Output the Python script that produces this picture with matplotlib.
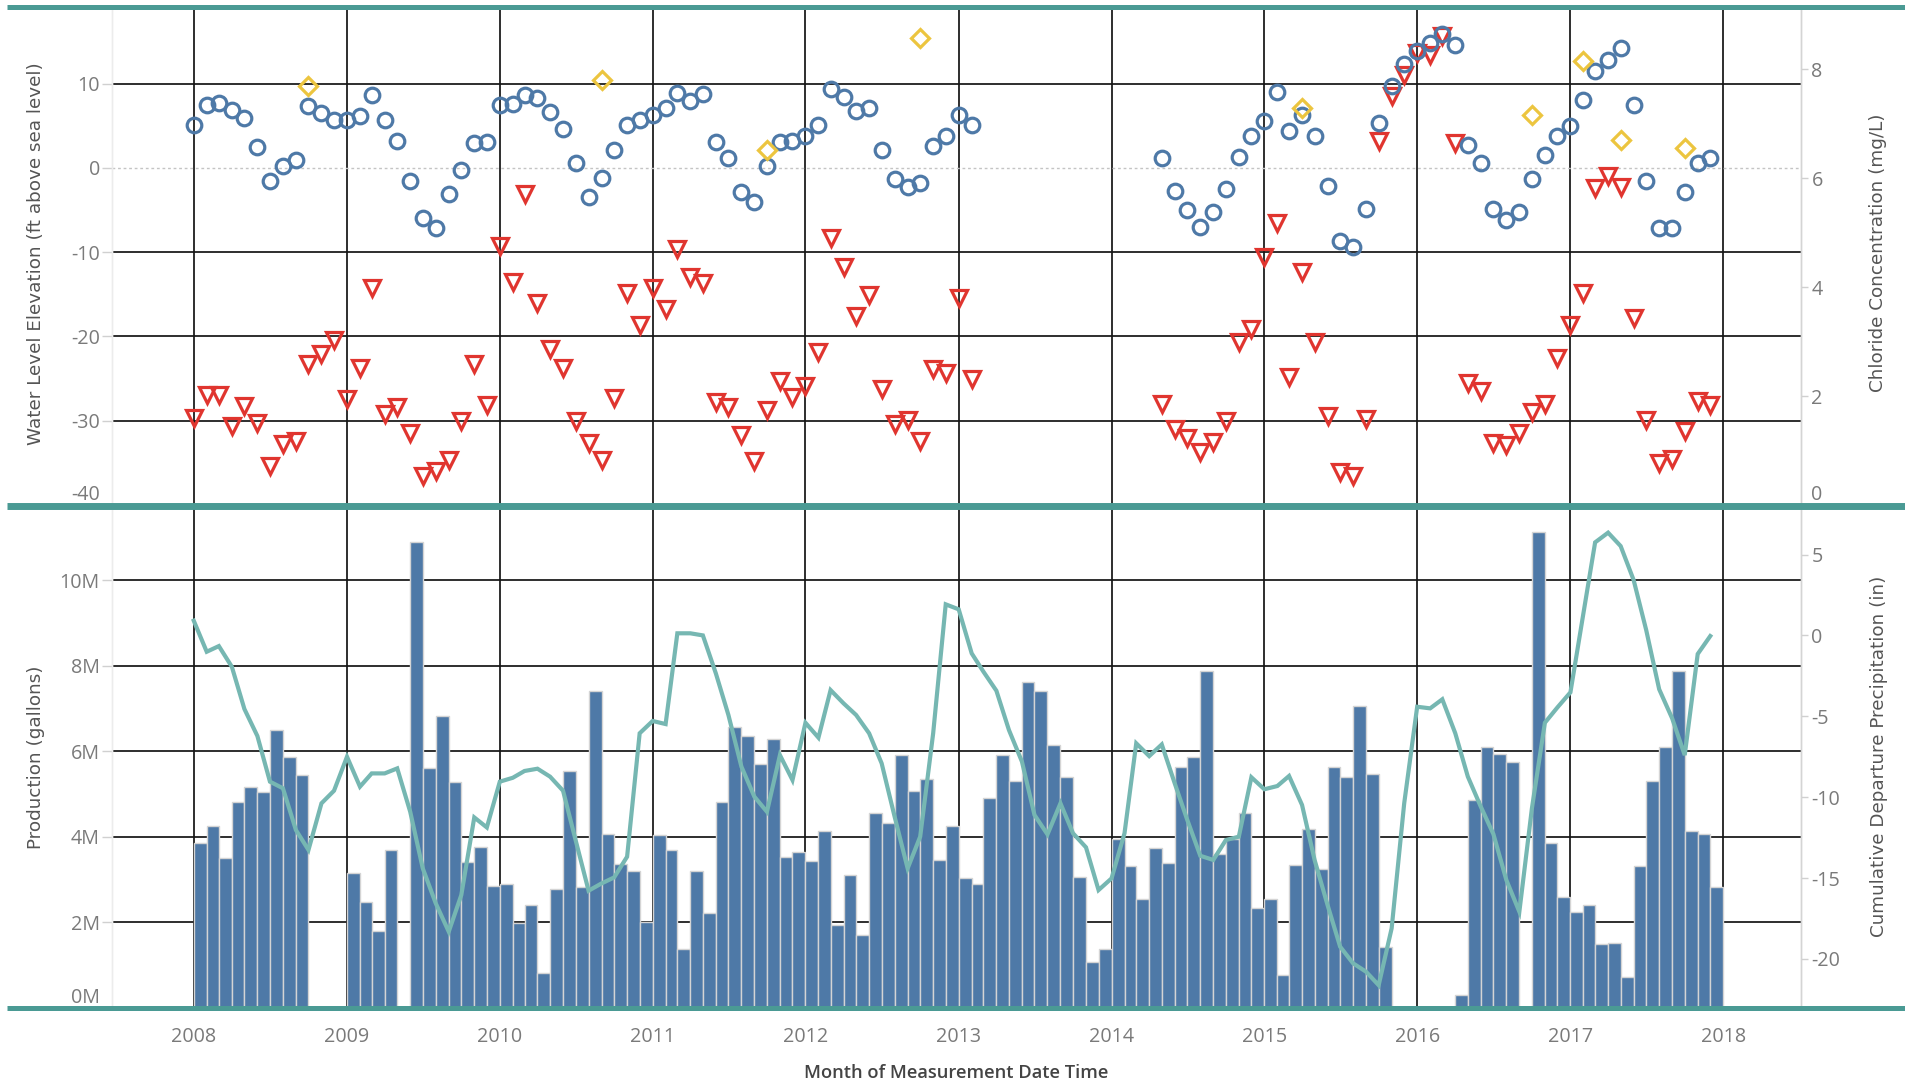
import numpy as np
import pandas as pd
import matplotlib
matplotlib.use("Agg")
import matplotlib.pyplot as plt
import matplotlib.dates as mdates
from matplotlib.lines import Line2D

plt.rcParams["font.family"] = ["Open Sans", "DejaVu Sans"]
plt.rcParams["axes.unicode_minus"] = False

nan = np.nan

# ---- monthly data, Jan 2008 .. Dec 2017 ----
months = pd.date_range("2008-01-01", "2017-12-01", freq="MS")

# water level elevation (ft above sea level), well A (circles)
well_a_ft = [
    5.14, 7.47, 7.67, 6.88, 5.97, 2.49, -1.58, 0.20, 0.91, 7.31, 6.52, 5.73,
    5.73, 6.17, 8.62, 5.73, 3.24, -1.58, -5.97, -7.15, -3.12, -0.24, 2.89, 3.04,
    7.47, 7.63, 8.62, 8.26, 6.68, 4.58, 0.55, -3.48, -1.19, 2.09, 5.14, 5.73,
    6.32, 7.11, 8.85, 7.91, 8.81, 3.04, 1.15, -2.89, -4.03, 0.20, 3.04, 3.24,
    3.83, 5.14, 9.41, 8.42, 6.72, 7.08, 2.09, -1.38, -2.33, -1.78, 2.65, 3.83,
    6.32, 5.10, nan, nan, nan, nan, nan, nan, nan, nan, nan, nan,
    nan, nan, nan, nan, 1.15, -2.73, -5.02, -6.96, -5.22, -2.53, 1.34, 3.83,
    5.57, 9.01, 4.39, 6.32, 3.83, -2.13, -8.66, -9.45, -4.86, 5.34, 9.76, 12.33,
    13.83, 14.82, 15.89, 14.58, 2.69, 0.55, -4.86, -6.21, -5.22, -1.38, 1.54, 3.83,
    4.98, 8.06, 11.50, 12.85, 14.23, 7.47, -1.58, -7.08, -7.15, -2.92, 0.55, 1.15,
]

# water level elevation (ft above sea level), well B (triangles)
well_b_ft = [
    -29.64, -27.00, -27.00, -30.63, -28.26, -30.24, -35.38, -32.73, -32.41, -23.32, -22.13, -20.43,
    -27.39, -23.72, -14.27, -29.25, -28.34, -31.50, -36.56, -35.97, -34.70, -30.04, -23.32, -28.18,
    -9.29, -13.52, -3.16, -16.01, -21.54, -23.72, -30.04, -32.61, -34.66, -27.31, -14.82, -18.70,
    -14.27, -16.80, -9.60, -12.96, -13.72, -27.79, -28.34, -31.74, -34.78, -28.74, -25.30, -27.15,
    -25.89, -21.82, -8.34, -11.74, -17.59, -15.06, -26.21, -30.43, -29.92, -32.41, -23.83, -24.31,
    -15.45, -25.02, nan, nan, nan, nan, nan, nan, nan, nan, nan, nan,
    nan, nan, nan, nan, -27.98, -31.03, -32.02, -33.72, -32.53, -30.04, -20.67, -19.09,
    -10.59, -6.60, -24.78, -12.37, -20.67, -29.45, -36.09, -36.56, -29.84, 3.20, 8.50, 11.07,
    13.64, 13.44, 15.69, 2.96, -25.49, -26.48, -32.61, -32.92, -31.42, -28.97, -27.98, -22.57,
    -18.70, -14.90, -2.37, -0.99, -2.25, -17.79, -29.92, -34.98, -34.51, -31.26, -27.67, -28.18,
]

# chloride samples (mg/L)
chloride_dates = ["2008-10-01", "2010-09-01", "2011-10-01", "2012-10-01", "2015-04-01",
                  "2016-10-01", "2017-02-01", "2017-05-01", "2017-10-01"]
chloride_mgl = [7.69, 7.80, 6.52, 8.57, 7.29, 7.15, 8.15, 6.70, 6.56]

# monthly production (millions of gallons)
production_mgal = [
    3.85, 4.26, 3.50, 4.82, 5.17, 5.05, 6.50, 5.86, 5.44, nan, nan, nan,
    3.16, 2.48, 1.79, 3.69, nan, 10.90, 5.62, 6.83, 5.28, 3.42, 3.77, 2.86,
    2.89, 1.99, 2.40, 0.81, 2.79, 5.55, 2.82, 7.40, 4.07, 3.36, 3.21, 2.02,
    4.04, 3.69, 1.37, 3.20, 2.21, 4.82, 6.56, 6.35, 5.70, 6.30, 3.54, 3.65,
    3.43, 4.14, 1.95, 3.11, 1.71, 4.57, 4.32, 5.92, 5.08, 5.36, 3.46, 4.26,
    3.04, 2.89, 4.90, 5.92, 5.31, 7.63, 7.41, 6.15, 5.40, 3.07, 1.07, 1.37,
    3.94, 3.32, 2.55, 3.73, 3.38, 5.63, 5.86, 7.89, 3.61, 3.96, 4.57, 2.34,
    2.56, 0.77, 3.34, 4.18, 3.24, 5.63, 5.40, 7.06, 5.47, 1.42, nan, nan,
    nan, nan, nan, 0.30, 4.86, 6.11, 5.95, 5.74, nan, 11.12, 3.85, 2.60,
    2.25, 2.40, 1.49, 1.52, 0.73, 3.32, 5.31, 6.11, 7.89, 4.14, 4.07, 2.82,
]

# cumulative departure from normal precipitation (in)
precip_departure_in = [
    0.91, -1.01, -0.66, -1.94, -4.55, -6.22, -9.04, -9.45, -12.03, -13.26, -10.38, -9.60,
    -7.50, -9.35, -8.53, -8.53, -8.22, -10.90, -14.40, -16.56, -18.31, -16.05, -11.25, -11.87,
    -9.04, -8.80, -8.38, -8.24, -8.73, -9.60, -12.65, -15.78, -15.33, -14.96, -13.68, -6.05,
    -5.29, -5.48, 0.13, 0.13, 0.00, -2.35, -4.92, -8.11, -9.97, -10.90, -7.40, -8.94,
    -5.40, -6.32, -3.38, -4.20, -4.92, -6.05, -7.91, -11.21, -14.40, -12.44, -6.05, 1.92,
    1.61, -1.11, -2.24, -3.42, -5.85, -7.80, -11.10, -12.30, -10.38, -12.23, -13.10, -15.74,
    -15.02, -12.23, -6.67, -7.46, -6.74, -9.15, -11.41, -13.62, -13.88, -12.65, -12.44, -8.77,
    -9.51, -9.31, -8.69, -10.48, -13.88, -16.67, -19.24, -20.27, -20.79, -21.62, -18.11, -10.38,
    -4.41, -4.51, -3.95, -6.05, -8.73, -10.59, -12.28, -15.12, -17.08, -10.69, -5.40, -4.45,
    -3.52, 1.36, 5.75, 6.35, 5.52, 3.42, 0.33, -3.33, -5.13, -7.40, -1.15, -0.04,
]

years = list(range(2008, 2019))
water_ticks = [-40, -30, -20, -10, 0, 10]
chloride_ticks = [0, 2, 4, 6, 8]
production_ticks = [0, 2, 4, 6, 8, 10]
precip_ticks = [-20, -15, -10, -5, 0, 5]

# ---- colours ----
BLUE = "#4e79a7"
RED = "#e0352f"
GOLD = "#ecc53f"
TEAL_LINE = "#76b7b2"
BAND = "#4a9a94"
GRID = "#141414"
TICK_TXT = "#7a7a7a"
TITLE_TXT = "#555555"

W, H = 1906, 1086
fig = plt.figure(figsize=(W / 100, H / 100), dpi=100)


def frac_box(x0, y0, x1, y1):
    return [x0 / W, 1 - y1 / H, (x1 - x0) / W, (y1 - y0) / H]


ax_top = fig.add_axes(frac_box(111.6, 6, 1801, 505))
ax_bot = fig.add_axes(frac_box(111.6, 505, 1801, 1008), sharex=ax_top)
ax_top_r = ax_top.twinx()
ax_bot_r = ax_bot.twinx()

x0 = mdates.date2num(pd.Timestamp("2008-01-01"))
ax_top.set_xlim(x0 - 196.2, x0 + 3838.7)

year_dates = [pd.Timestamp(f"{y}-01-01") for y in years]

# ---- reference lines ----
for ax in (ax_top, ax_bot):
    for d in year_dates:
        ax.axvline(d, color=GRID, lw=1.25, zorder=1)
for v in water_ticks:
    if v == 0:
        ax_top.axhline(v, color="#c4c4c4", lw=1.0, ls=(0, (2, 2)), zorder=1)
    elif v > -40:
        ax_top.axhline(v, color=GRID, lw=1.25, zorder=1)
for v in production_ticks:
    if v > 0:
        ax_bot.axhline(v, color=GRID, lw=1.25, zorder=1)

# ---- top panel: water levels and chloride ----
wa = np.array(well_a_ft)
wb = np.array(well_b_ft)
ax_top.plot(months, wb, ls="none", marker="v", ms=11.5, mfc="none", mec=RED, mew=2.3, zorder=3)
ax_top.plot(months, wa, ls="none", marker="o", ms=10.5, mfc="none", mec=BLUE, mew=2.3, zorder=4)
ax_top_r.plot(pd.to_datetime(chloride_dates), chloride_mgl, ls="none", marker="D",
              ms=9.4, mfc="none", mec=GOLD, mew=2.3, zorder=4)

ax_top.set_ylim(-40, 19.2)
ax_top_r.set_ylim(0, 9.16)

# ---- bottom panel: production bars and precipitation departure ----
prod = np.array(production_mgal)
has_prod = ~np.isnan(prod)
month_days = ((months + pd.offsets.MonthBegin(1)) - months).days.values
ax_bot.bar(months[has_prod], prod[has_prod], width=month_days[has_prod], align="edge",
           color=BLUE, edgecolor="#d4d4d4", linewidth=1.0, zorder=2)
ax_bot_r.plot(months, precip_departure_in, color=TEAL_LINE, lw=3.0, zorder=3,
              solid_joinstyle="miter")

ax_bot.set_ylim(0, 11.76)
ax_bot_r.set_ylim(-23.03, 8.06)

# ---- ticks ----
lbl_font = dict(fontsize=14.2, color=TICK_TXT)

ax_top.set_yticks(water_ticks, [str(v) for v in water_ticks], **lbl_font)
ax_top_r.set_yticks(chloride_ticks, [str(v) for v in chloride_ticks], **lbl_font)
ax_bot.set_yticks(production_ticks, [f"{v}M" for v in production_ticks], **lbl_font)
ax_bot_r.set_yticks(precip_ticks, [str(v) for v in precip_ticks], **lbl_font)
ax_bot.set_xticks(year_dates, [str(y) for y in years], **lbl_font)

for ax in (ax_top, ax_bot):
    ax.tick_params(axis="y", length=7, width=1.0, color="#d0d0d0", pad=1.5)
for ax in (ax_top_r, ax_bot_r):
    ax.tick_params(axis="y", length=5, width=1.0, color="#d0d0d0", pad=2.5)
ax_top.tick_params(axis="x", bottom=False, labelbottom=False)
ax_bot.tick_params(axis="x", length=0, pad=14)

# labels at the lower edge sit just inside the pane
for lbl in ax_top.get_yticklabels() + ax_bot.get_yticklabels():
    if lbl.get_text() in ("-40", "0M"):
        lbl.set_va("bottom")
for lbl in ax_top_r.get_yticklabels():
    if lbl.get_text() == "0":
        lbl.set_va("bottom")
        lbl.set_y(0.15)

for ax in (ax_top, ax_bot, ax_top_r, ax_bot_r):
    ax.spines["top"].set_visible(False)
    ax.spines["bottom"].set_visible(False)
    ax.spines["left"].set_color("#ececec")
    ax.spines["right"].set_color("#d4d4d4")
    ax.spines["left"].set_linewidth(1.0)
    ax.spines["right"].set_linewidth(1.0)
    ax.set_facecolor("none")

# ---- pane borders ----
for y_px, lw in ((6.5, 3.6), (505.5, 5.0), (1007.5, 3.6)):
    fig.add_artist(Line2D([7 / W, 1.0], [1 - y_px / H] * 2, transform=fig.transFigure,
                          color=BAND, lw=lw, solid_capstyle="butt", zorder=20))

# ---- axis titles ----
title_font = dict(fontsize=13.2, color=TITLE_TXT, family=["DejaVu Sans"])
fig.text(35.7 / W, 1 - 253.7 / H, "Water Level Elevation (ft above sea level)",
         rotation=90, ha="center", va="center", **title_font)
fig.text(35.7 / W, 1 - 757 / H, "Production (gallons)",
         rotation=90, ha="center", va="center", **title_font)
fig.text(1878 / W, 1 - 252.8 / H, "Chloride Concentration (mg/L)",
         rotation=90, ha="center", va="center", **title_font)
fig.text(1879 / W, 1 - 756 / H, "Cumulative Departure Precipitation (in)",
         rotation=90, ha="center", va="center", **title_font)
fig.text(956.5 / W, 1 - 1073 / H, "Month of Measurement Date Time",
         ha="center", va="center", fontsize=13.2, color="#444444", fontweight="semibold")

fig.savefig("out.png", dpi=100, facecolor="white")
